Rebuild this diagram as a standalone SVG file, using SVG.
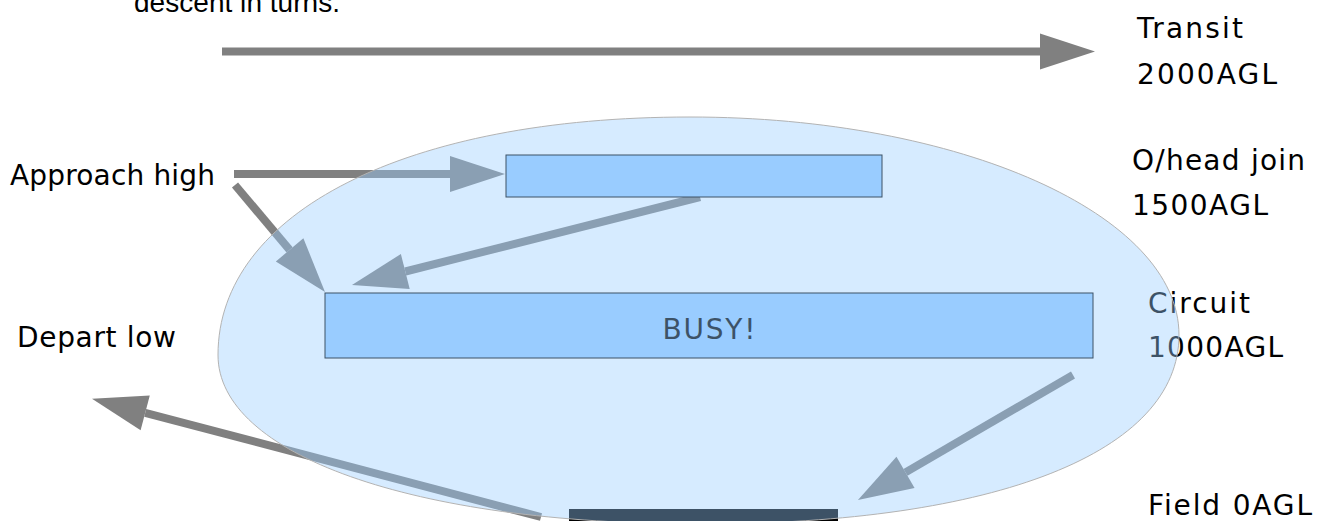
<svg xmlns="http://www.w3.org/2000/svg" width="1322" height="521" viewBox="0 0 1322 521">
  <style>
    .lbl { font-family: "DejaVu Sans", "Open Sans", sans-serif; font-size: 28px; fill: #000; }
    .cap { font-family: "Liberation Sans", Arial, sans-serif; font-size: 28px; fill: #000; }
    .flow { stroke: #808080; stroke-width: 8; fill: none; marker-end: url(#head); }
    .level { fill: #99ccff; stroke: #000; stroke-width: 1; }
  </style>
  <defs>
    <!-- arrowhead starts at the line end and runs 55px forward -->
    <marker id="head" markerUnits="userSpaceOnUse" markerWidth="60" markerHeight="40" viewBox="0 -20 60 40" refX="0" refY="0" orient="auto" overflow="visible">
      <path d="M0,-18 L55,0 L0,18 Z" fill="#808080"/>
    </marker>
  </defs>
  <rect width="1322" height="521" fill="#fff"/>

  <!-- caption trailing in from above -->
  <text class="cap" x="134" y="12" textLength="206" lengthAdjust="spacing">descent in turns.</text>

  <!-- altitude labels -->
  <g id="labels">
    <text class="lbl" x="1137" y="38" textLength="106" lengthAdjust="spacing">Transit</text>
    <text class="lbl" x="1137" y="84" textLength="140" lengthAdjust="spacing">2000AGL</text>
    <text class="lbl" x="1132" y="170" textLength="173" lengthAdjust="spacing">O/head join</text>
    <text class="lbl" x="1132" y="215" textLength="136" lengthAdjust="spacing">1500AGL</text>
    <text class="lbl" x="1148" y="313" textLength="102" lengthAdjust="spacing">Circuit</text>
    <text class="lbl" x="1148" y="357" textLength="135" lengthAdjust="spacing">1000AGL</text>
    <text class="lbl" x="1148" y="515" textLength="164" lengthAdjust="spacing">Field 0AGL</text>
    <text class="lbl" x="10" y="185" textLength="205" lengthAdjust="spacing">Approach high</text>
    <text class="lbl" x="17" y="347" textLength="159" lengthAdjust="spacing">Depart low</text>
  </g>

  <!-- flight paths -->
  <g id="connectors">
    <line class="flow" x1="222" y1="51.5" x2="1040" y2="51.5"/>
    <line class="flow" x1="234" y1="174" x2="450" y2="174"/>
    <line class="flow" x1="235" y1="185" x2="289.6" y2="249.9"/>
    <line class="flow" x1="700" y1="197" x2="405.3" y2="271.5"/>
    <line class="flow" x1="1073" y1="375" x2="905.5" y2="472.4"/>
    <line class="flow" x1="541" y1="517" x2="145.2" y2="412.8"/>
  </g>

  <g id="overhead">
    <rect class="level" x="506" y="155" width="376" height="42"/>
  </g>

  <g id="circuit">
    <rect class="level" x="325" y="293" width="768" height="65"/>
    <text class="lbl" x="709" y="339" text-anchor="middle" font-size="31" textLength="93" lengthAdjust="spacing">BUSY!</text>
  </g>

  <g id="field">
    <rect x="569" y="509" width="269" height="14" fill="#000"/>
  </g>

  <!-- translucent traffic zone laid over everything -->
  <g id="zone">
    <path d="M218,355 C218,212 407,117 690,117 C960,117 1179,214.6 1179,335 C1179,452 997,524 700,524 C411,524 218,454 218,355 Z" fill="#99ccff" fill-opacity="0.4" stroke="#b3b3b3" stroke-width="1"/>
  </g>
</svg>
